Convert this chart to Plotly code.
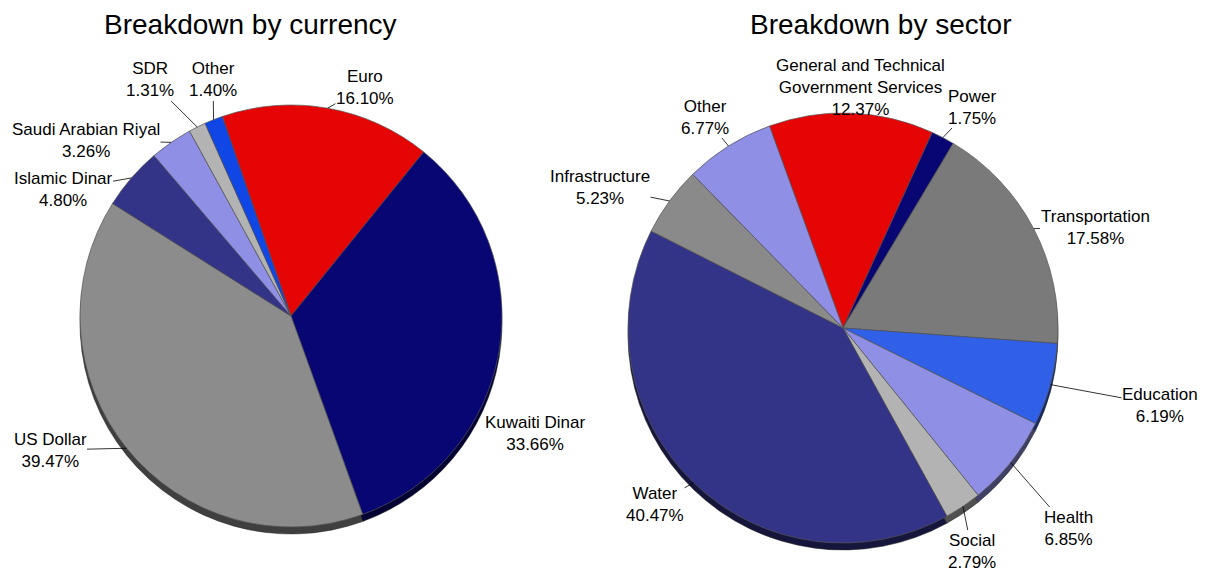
import math
import plotly.graph_objects as go

# currency breakdown (clockwise from the Euro slice)
currency_labels = ["Euro", "Kuwaiti Dinar", "US Dollar", "Islamic Dinar",
                   "Saudi Arabian Riyal", "SDR", "Other"]
currency_values = [16.10, 33.66, 39.47, 4.80, 3.26, 1.31, 1.40]
currency_colors = ["#E60505", "#070672", "#8C8C8C", "#333388",
                   "#8F8FE6", "#B3B3B3", "#1045E6"]

# sector breakdown (clockwise from the red slice)
sector_labels = ["General and Technical<br>Government Services", "Power",
                 "Transportation", "Education", "Health", "Social", "Water",
                 "Infrastructure", "Other"]
sector_values = [12.37, 1.75, 17.58, 6.19, 6.85, 2.79, 40.47, 5.23, 6.77]
sector_colors = ["#E60505", "#070672", "#7A7A7A", "#3060E8", "#8F8FE6",
                 "#B3B3B3", "#333388", "#8A8A8A", "#8F8FE6"]

# where each data label sits (screen px) and whether it has a leader line
currency_label_pos = [(365, 87), (535, 433), (50, 450), (63, 190),
                      (86, 140), (150, 80), (213, 80)]
currency_leader = [True, False, True, True, True, True, True]
sector_label_pos = [(860, 87), (972, 107), (1095, 227), (1160, 405),
                    (1068, 528), (972, 551), (655, 504), (600, 187), (705, 117)]
sector_leader = [False, True, True, True, True, True, True, True, True]

W, H = 1210, 573
OFF = 8  # page body margin shifts the whole figure
FONT = "Liberation Sans"


def darker(hex_color, k=0.45):
    r, g, b = (int(hex_color[i:i + 2], 16) for i in (1, 3, 5))
    return "#%02x%02x%02x" % (int(r * k), int(g * k), int(b * k))


def pie_domain(cx, cy, r, dy=0):
    # centre/radius in screen pixels -> paper domain
    cx, cy = cx - OFF, cy - OFF + dy
    return dict(x=[(cx - r) / W, (cx + r) / W],
                y=[(H - cy - r) / H, (H - cy + r) / H])


def to_paper(x, y):
    return (x - OFF) / W, 1 - (y - OFF) / H


fig = go.Figure()

pies = [
    (currency_labels, currency_values, currency_colors, (291, 316, 211), -19,
     currency_label_pos, currency_leader),
    (sector_labels, sector_values, sector_colors, (843, 328, 215), -20,
     sector_label_pos, sector_leader),
]

for labels, values, colors, (cx, cy, r), rot, label_pos, leader in pies:
    # darker copy shifted down gives the extruded edge
    fig.add_trace(go.Pie(
        labels=labels, values=values, sort=False, direction="clockwise",
        rotation=rot, domain=pie_domain(cx, cy, r, dy=7),
        marker=dict(colors=[darker(c) for c in colors],
                    line=dict(color="#222222", width=0.5)),
        textinfo="none", hoverinfo="skip", showlegend=False,
    ))
    fig.add_trace(go.Pie(
        labels=labels, values=values, sort=False, direction="clockwise",
        rotation=rot, domain=pie_domain(cx, cy, r),
        marker=dict(colors=colors, line=dict(color="#555555", width=0.7)),
        textinfo="none", hovertemplate="%{label}: %{value:.2f}%<extra></extra>",
        showlegend=False,
    ))

    # data labels, leader lines end on the rim at each slice's mid angle
    total = sum(values)
    cum = 0
    for lab, val, (lx, ly), line in zip(labels, values, label_pos, leader):
        mid = math.radians(rot + (cum + val / 2) / total * 360)
        cum += val
        rx, ry = cx + r * math.sin(mid), cy - r * math.cos(mid)
        text = f"{lab}<br>{val:.2f}%"
        if line:
            px, py = to_paper(rx, ry)
            fig.add_annotation(text=text, x=px, y=py, xref="paper", yref="paper",
                               ax=lx - rx, ay=ly - ry, showarrow=True,
                               arrowhead=0, arrowwidth=0.8, arrowcolor="black",
                               standoff=0, borderpad=0)
        else:
            px, py = to_paper(lx, ly)
            fig.add_annotation(text=text, x=px, y=py, xref="paper", yref="paper",
                               xanchor="center", yanchor="middle",
                               showarrow=False, borderpad=0)

fig.update_annotations(font=dict(family=FONT, size=17, color="black"))

for text, x in [("Breakdown by currency", 251), ("Breakdown by sector", 880)]:
    fig.add_annotation(text=text, x=(x - OFF) / W, y=1,
                       xref="paper", yref="paper", xanchor="center",
                       yanchor="top", showarrow=False, borderpad=0,
                       font=dict(family=FONT, size=28, color="black"))

fig.update_layout(
    width=W, height=H,
    margin=dict(l=0, r=0, t=0, b=0),
    paper_bgcolor="white", plot_bgcolor="white",
    font=dict(family=FONT, size=17, color="black"),
)

fig.write_html("out.html")
